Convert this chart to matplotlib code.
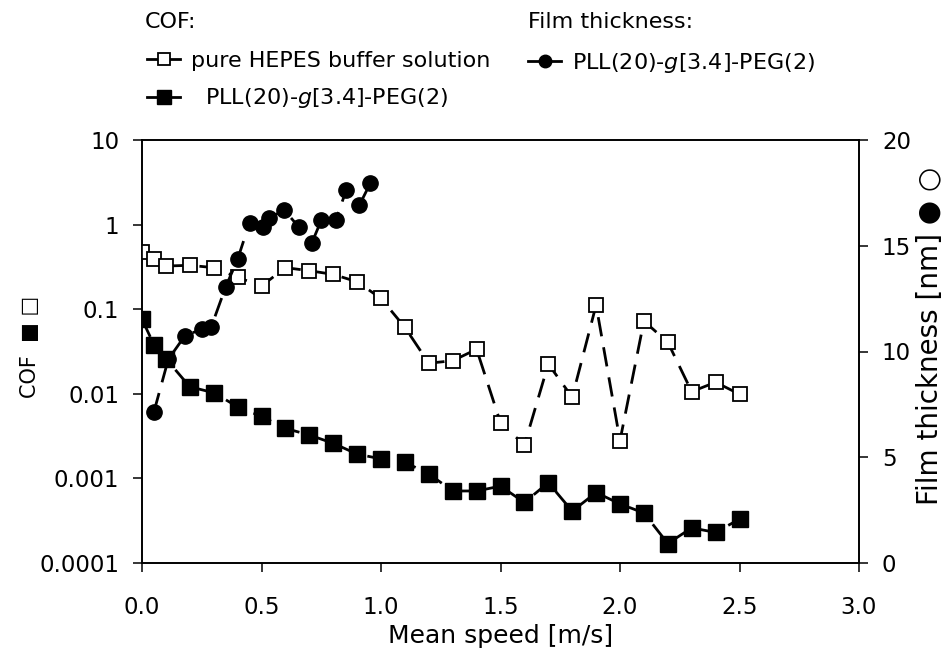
import matplotlib
matplotlib.use('Agg')
import matplotlib.pyplot as plt
from matplotlib.lines import Line2D
from matplotlib.ticker import FixedLocator, FixedFormatter

plt.rcParams['font.family'] = ['DejaVu Sans']
plt.rcParams['font.size'] = 16
plt.rcParams['mathtext.fontset'] = 'dejavusans'

# COF, pure HEPES buffer (open squares) and PLL-g-PEG (filled squares)
speed = [0.0, 0.05, 0.1, 0.2, 0.3, 0.4, 0.5, 0.6, 0.7, 0.8, 0.9, 1.0, 1.1, 1.2,
         1.3, 1.4, 1.5, 1.6, 1.7, 1.8, 1.9, 2.0, 2.1, 2.2, 2.3, 2.4, 2.5]
cof_hepes = [0.47, 0.39, 0.324, 0.33, 0.31, 0.238, 0.188, 0.31, 0.285, 0.258,
             0.211, 0.134, 0.061, 0.023, 0.0246, 0.0336, 0.00455, 0.00248,
             0.0225, 0.0091, 0.112, 0.0028, 0.0724, 0.0407, 0.0106, 0.0137, 0.0099]
cof_pll = [0.076, 0.038, 0.026, 0.0121, 0.0103, 0.00703, 0.0054, 0.0039,
           0.00326, 0.0026, 0.00194, 0.0017, 0.00155, 0.00113, 0.00071, 0.00071,
           0.00081, 0.00052, 0.00089, 0.00041, 0.00068, 0.00050, 0.00039,
           0.00017, 0.00026, 0.00023, 0.00033]

# film thickness of PLL(20)-g[3.4]-PEG(2) (filled circles, right axis)
speed_film = [0.05, 0.11, 0.18, 0.25, 0.29, 0.35, 0.40, 0.45, 0.505, 0.53,
              0.595, 0.655, 0.71, 0.75, 0.81, 0.855, 0.91, 0.955]
film_pll = [7.15, 9.63, 10.75, 11.05, 11.17, 13.05, 14.36, 16.09, 15.87, 16.3,
            16.69, 15.9, 15.12, 16.2, 16.2, 17.64, 16.93, 17.95]

cof_ticks = [0.0001, 0.001, 0.01, 0.1, 1, 10]
cof_labels = ['0.0001', '0.001', '0.01', '0.1', '1', '10']
x_ticks = [0.0, 0.5, 1.0, 1.5, 2.0, 2.5, 3.0]
film_ticks = [0, 5, 10, 15, 20]

dash = (7, 4)
lw = 2.0

fig = plt.figure(figsize=(9.43, 6.51), dpi=100)
ax = fig.add_axes([142 / 943, 1 - 563 / 651, 717 / 943, 423 / 651])
ax2 = ax.twinx()

ax.plot(speed, cof_hepes, color='k', lw=lw, dashes=dash, marker='s', ms=10,
        mfc='white', mec='k', mew=1.3, zorder=3)
ax.plot(speed, cof_pll, color='k', lw=lw, dashes=dash, marker='s', ms=11,
        mfc='k', mec='k', zorder=3)
ax2.plot(speed_film, film_pll, color='k', lw=lw, dashes=dash, marker='o', ms=11,
         mfc='k', mec='k', zorder=3)

ax.set_yscale('log')
ax.set_ylim(1e-4, 10)
ax.set_xlim(0, 3)
ax.yaxis.set_major_locator(FixedLocator(cof_ticks))
ax.yaxis.set_major_formatter(FixedFormatter(cof_labels))
ax.yaxis.set_minor_locator(FixedLocator([]))
ax.set_xticks(x_ticks)
ax.set_xticklabels(['%.1f' % v for v in x_ticks])
ax2.set_ylim(0, 20)
ax2.set_yticks(film_ticks)

for a in (ax, ax2):
    for s in a.spines.values():
        s.set_linewidth(1.2)
    a.tick_params(axis='y', length=6.5, width=1.1, labelsize=16.5, pad=10)
ax.tick_params(axis='x', length=6.5, width=1.1, labelsize=16.5, pad=17)

ax.set_xlabel('Mean speed [m/s]', fontsize=18, va='center')
ax.xaxis.set_label_coords(0.5, (563 - 636) / 423)
ax.set_ylabel('COF  \u25a0 \u25a1', fontsize=15, va='center')
ax.yaxis.set_label_coords((30 - 142) / 717, 0.512)
ax2.set_ylabel('Film thickness [nm] \u25cf \u25cb', fontsize=20, va='center',
               rotation=90)
ax2.yaxis.set_label_coords((930 - 142) / 717, 0.538)

# legend headers
fig.text(145 / 943, 1 - 22 / 651, 'COF:', fontsize=16, ha='left', va='center')
fig.text(528 / 943, 1 - 22 / 651, 'Film thickness:', fontsize=16, ha='left', va='center')

h_hepes = Line2D([], [], color='k', lw=lw, marker='s', ms=8, mfc='white', mec='k', mew=1.3)
h_pll = Line2D([], [], color='k', lw=lw, marker='s', ms=10, mfc='k', mec='k')
h_film = Line2D([], [], color='k', lw=lw, marker='o', ms=9, mfc='k', mec='k')

leg_kw = dict(loc='upper left', frameon=False, borderpad=0, borderaxespad=0,
              handlelength=1.5, handletextpad=0.5, labelspacing=0.69, fontsize=16)
leg1 = fig.legend([h_hepes, h_pll],
                  ['pure HEPES buffer solution', '  PLL(20)-$g$[3.4]-PEG(2)'],
                  bbox_to_anchor=(147 / 943, 1 - 51 / 651), **leg_kw)
leg2 = fig.legend([h_film], ['PLL(20)-$g$[3.4]-PEG(2)'],
                  bbox_to_anchor=(528 / 943, 1 - 51 / 651), **leg_kw)

fig.savefig('out.png', dpi=100)
